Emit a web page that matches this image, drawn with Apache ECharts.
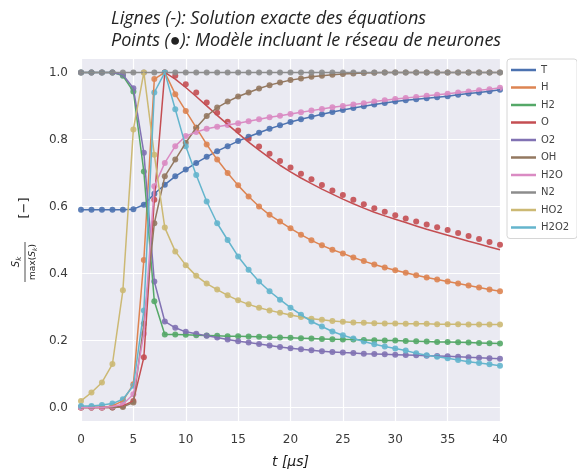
<!DOCTYPE html>
<html>
<head>
<meta charset="utf-8">
<script src="https://cdn.jsdelivr.net/npm/echarts@6/dist/echarts.min.js"></script>
<style>
  html, body { margin: 0; padding: 0; background: #fff; }
  #chart { width: 577px; height: 474px; }
</style>
</head>
<body>
<div id="chart"></div>
<script>
// time samples [µs]
const TIME = [0,1,2,3,4,5,6,7,8,9,10,11,12,13,14,15,16,17,18,19,20,
              21,22,23,24,25,26,27,28,29,30,31,32,33,34,35,36,37,38,39,40];

const SPECIES = ['T', 'H', 'H2', 'O', 'O2', 'OH', 'H2O', 'N2', 'HO2', 'H2O2'];
const COLORS = ['#4C72B0', '#DD8452', '#55A868', '#C44E52', '#8172B3',
                '#937860', '#DA8BC3', '#8C8C8C', '#CCB974', '#64B5CD'];

const X_TICKS = [0, 5, 10, 15, 20, 25, 30, 35, 40];
const Y_TICKS = [0, 0.2, 0.4, 0.6, 0.8, 1.0];

// normalised values S_k / max(S_k), one per µs
const T_VALS = [0.59,0.59,0.59,0.59,0.59,0.592,0.605,0.638,0.665,0.69,0.71,0.73,0.748,0.765,0.78,0.795,0.808,0.82,0.832,0.842,0.852,
                0.86,0.868,0.875,0.882,0.888,0.894,0.899,0.904,0.909,0.913,0.917,0.92,0.923,0.926,0.929,0.933,0.937,0.94,0.944,0.948];
const H_VALS = [0,0,0,0.005,0.02,0.07,0.44,0.98,1.0,0.935,0.885,0.835,0.785,0.74,0.7,0.663,0.63,0.6,0.575,0.555,0.535,
                0.516,0.499,0.484,0.471,0.46,0.448,0.437,0.427,0.418,0.41,0.402,0.395,0.388,0.382,0.376,0.37,0.364,0.358,0.352,0.347];
const H2_VALS = [1,1,1,1,0.99,0.943,0.704,0.317,0.218,0.218,0.217,0.216,0.215,0.214,0.213,0.213,0.212,0.211,0.21,0.209,0.208,
                 0.207,0.206,0.205,0.204,0.203,0.203,0.202,0.201,0.2,0.2,0.199,0.198,0.197,0.196,0.196,0.195,0.194,0.193,0.192,0.191];
const O_LINE = [0,0,0,0,0.005,0.02,0.15,0.62,1.0,0.98,0.955,0.928,0.9,0.872,0.845,0.818,0.792,0.768,0.745,0.723,0.703,
                0.685,0.668,0.652,0.637,0.622,0.608,0.595,0.583,0.572,0.562,0.552,0.542,0.532,0.523,0.514,0.505,0.496,0.488,0.479,0.471];
const O_POINTS = [0,0,0,0,0.005,0.02,0.15,0.62,1.0,0.99,0.965,0.94,0.91,0.88,0.853,0.827,0.802,0.779,0.757,0.736,0.716,
                  0.698,0.681,0.664,0.648,0.634,0.62,0.607,0.595,0.584,0.574,0.564,0.555,0.546,0.538,0.53,0.521,0.512,0.503,0.494,0.486];
const O2_VALS = [1,1,1,1,0.993,0.953,0.76,0.376,0.257,0.238,0.226,0.22,0.214,0.209,0.203,0.198,0.194,0.19,0.185,0.181,0.177,
                 0.174,0.171,0.168,0.166,0.164,0.163,0.161,0.16,0.159,0.158,0.157,0.156,0.155,0.154,0.153,0.152,0.15,0.149,0.147,0.146];
const OH_VALS = [0,0,0,0,0.002,0.015,0.25,0.55,0.69,0.74,0.79,0.835,0.87,0.895,0.913,0.928,0.94,0.952,0.962,0.97,0.977,
                 0.982,0.987,0.99,0.993,0.995,0.997,0.998,0.999,1,1,1,1,1,1,1,1,1,1,1,1];
const H2O_VALS = [0,0,0,0.003,0.01,0.04,0.22,0.66,0.73,0.78,0.81,0.822,0.832,0.838,0.843,0.848,0.854,0.86,0.866,0.871,0.876,
                  0.881,0.886,0.891,0.896,0.9,0.904,0.908,0.913,0.917,0.921,0.924,0.927,0.93,0.933,0.936,0.94,0.943,0.947,0.95,0.954];
const N2_VALS = [1,1,1,1,1,1,1,1,1,1,1,1,1,1,1,1,1,1,1,1,1,
                 1,1,1,1,1,1,1,1,1,1,1,1,1,1,1,1,1,1,1,1];
const HO2_VALS = [0.02,0.045,0.075,0.13,0.35,0.83,1.0,0.754,0.537,0.466,0.425,0.393,0.37,0.352,0.335,0.32,0.308,0.298,0.29,0.283,0.276,
                  0.27,0.265,0.262,0.258,0.256,0.254,0.253,0.252,0.251,0.251,0.25,0.25,0.25,0.249,0.249,0.249,0.248,0.248,0.248,0.248];
const H2O2_VALS = [0.005,0.005,0.008,0.012,0.025,0.065,0.29,0.94,1.0,0.89,0.78,0.694,0.615,0.55,0.5,0.451,0.411,0.376,0.347,0.322,0.298,
                   0.277,0.257,0.242,0.227,0.216,0.206,0.197,0.189,0.182,0.176,0.17,0.162,0.156,0.152,0.147,0.142,0.137,0.133,0.129,0.125];

// exact solution (lines) and network model (points)
const LINE_SETS = [T_VALS, H_VALS, H2_VALS, O_LINE, O2_VALS, OH_VALS, H2O_VALS, N2_VALS, HO2_VALS, H2O2_VALS];
const POINT_SETS = [T_VALS, H_VALS, H2_VALS, O_POINTS, O2_VALS, OH_VALS, H2O_VALS, N2_VALS, HO2_VALS, H2O2_VALS];

const pairs = vals => TIME.map((t, j) => [t, vals[j]]);

const series = [];
SPECIES.forEach((name, i) => {
  series.push({
    type: 'line', name: name, data: pairs(LINE_SETS[i]),
    showSymbol: false, clip: false,
    lineStyle: { width: 1.5, color: COLORS[i] },
    itemStyle: { color: COLORS[i] }
  });
  series.push({
    type: 'scatter', name: name + ' pts', data: pairs(POINT_SETS[i]),
    symbolSize: 6, clip: false,
    itemStyle: { color: COLORS[i], opacity: 0.9 }
  });
});

const tickText = { color: '#3a3a3a', fontSize: 12, fontFamily: 'DejaVu Sans' };

const chart = echarts.init(document.getElementById('chart'), null, { renderer: 'canvas' });
chart.setOption({
  animation: false,
  backgroundColor: '#fff',
  title: {
    text: 'Lignes (-): Solution exacte des équations\nPoints (●): Modèle incluant le réseau de neurones',
    left: 106, top: 3,
    textStyle: { fontStyle: 'italic', fontWeight: 'normal', fontSize: 18, lineHeight: 22,
                 color: '#222', fontFamily: 'Open Sans' }
  },
  grid: {
    left: 81, right: 77, top: 59, bottom: 53,
    show: true, backgroundColor: '#EAEAF2', borderWidth: 0,
    outerBoundsMode: 'none'
  },
  legend: {
    orient: 'vertical', left: 507, top: 59,
    data: SPECIES.map(n => ({ name: n, icon: 'rect' })),
    itemWidth: 25, itemHeight: 2.5, itemGap: 7.5,
    backgroundColor: 'rgba(255,255,255,0.9)', borderColor: '#d6d6d6', borderWidth: 1,
    borderRadius: 3, padding: [6, 8, 6, 4],
    textStyle: { color: '#444', fontSize: 10, fontFamily: 'DejaVu Sans' }
  },
  xAxis: {
    type: 'value', min: 0, max: 40, interval: 5,
    name: 't [μs]', nameLocation: 'middle', nameGap: 34,
    nameTextStyle: { fontStyle: 'italic', fontSize: 14, color: '#222', fontFamily: 'DejaVu Sans' },
    axisLine: { show: false }, axisTick: { show: false },
    axisLabel: Object.assign({ margin: 13, customValues: X_TICKS }, tickText),
    splitLine: { show: true, lineStyle: { color: '#fff', width: 1.2 } }
  },
  yAxis: {
    type: 'value', min: -0.04, max: 1.04,
    axisLine: { show: false },
    axisTick: { show: false, customValues: Y_TICKS },
    axisLabel: Object.assign({ margin: 13, customValues: Y_TICKS, formatter: v => v.toFixed(1) }, tickText),
    splitLine: { show: true, lineStyle: { color: '#fff', width: 1.2 } }
  },
  graphic: [{
    type: 'group', x: 25, y: 262, rotation: Math.PI / 2,
    children: [
      { type: 'text', x: 0, y: -2,
        style: { text: '{i|S}{s|k}', align: 'center', verticalAlign: 'bottom', fill: '#222',
                 rich: { i: { fontStyle: 'italic', fontSize: 10, fontFamily: 'DejaVu Sans' },
                         s: { fontStyle: 'italic', fontSize: 7, fontFamily: 'DejaVu Sans', padding: [6, 0, 0, 0] } } } },
      { type: 'line', shape: { x1: -20, y1: 0, x2: 20, y2: 0 }, style: { stroke: '#222', lineWidth: 0.8 } },
      { type: 'text', x: 0, y: 2,
        style: { text: 'max({i|S}{s|k})', align: 'center', verticalAlign: 'top', fill: '#222',
                 fontSize: 9, fontFamily: 'DejaVu Sans',
                 rich: { i: { fontStyle: 'italic', fontSize: 9, fontFamily: 'DejaVu Sans' },
                         s: { fontStyle: 'italic', fontSize: 6, fontFamily: 'DejaVu Sans', padding: [5, 0, 0, 0] } } } },
      { type: 'text', x: 54, y: 0,
        style: { text: '[−]', align: 'center', verticalAlign: 'middle', fill: '#222',
                 fontSize: 13, fontFamily: 'DejaVu Sans' } }
    ]
  }],
  series: series
});
</script>
</body>
</html>
